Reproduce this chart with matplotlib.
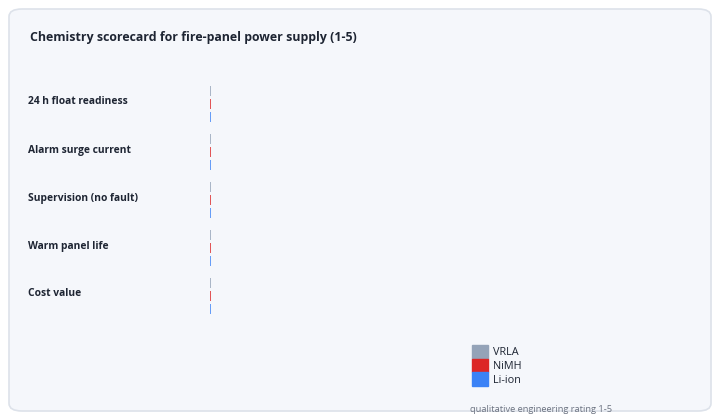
import numpy as np
import matplotlib
matplotlib.use("Agg")
import matplotlib.pyplot as plt
from matplotlib.patches import FancyBboxPatch, Rectangle
from matplotlib.transforms import blended_transform_factory, ScaledTranslation

plt.rcParams['font.family'] = ['Open Sans', 'DejaVu Sans']

criteria = ['24 h float readiness', 'Alarm surge current', 'Supervision (no fault)',
            'Warm panel life', 'Cost value']
series = ['VRLA', 'NiMH', 'Li-ion']
vrla = [5, 3, 4, 3, 5]
nimh = [3, 4, 3, 2, 3]
li_ion = [2, 5, 2, 5, 2]
colors = ['#94a3b8', '#dc2626', '#3b82f6']
note = 'qualitative engineering rating 1-5'

W, H = 720, 420
fig = plt.figure(figsize=(W / 100, H / 100), dpi=100)
fig.patch.set_facecolor('white')

# card background
card = FancyBboxPatch((9 / W, 9 / H), 702 / W, 402 / H,
                      boxstyle='round,pad=0,rounding_size=0.018',
                      transform=fig.transFigure, facecolor='#f5f7fb',
                      edgecolor='#dde2ea', linewidth=1.2, zorder=-5)
fig.patches.append(card)

fig.text(30 / W, 1 - 37 / H, 'Chemistry scorecard for fire-panel power supply (1-5)',
         fontsize=8.9, fontweight='bold', color='#1e2533', va='center', ha='left')

# axes region: rows of 48 px starting at y=80
top, bottom = 80, 320
ax = fig.add_axes([210 / W, 1 - bottom / H, 480 / W, (bottom - top) / H])
ax.set_facecolor('none')
ax.set_zorder(2)
for s in ax.spines.values():
    s.set_visible(False)

n = len(criteria)
y = np.arange(n)
bar_h = 0.22
offs = [-0.27, 0, 0.27]
for vals, off, c, name in zip([vrla, nimh, li_ion], offs, colors, series):
    ax.barh(y + off, vals, height=bar_h, color=c, edgecolor=c, linewidth=1.1, label=name)

# the scale runs far past the rating range, so every bar shows as a hairline
ax.set_xlim(0, 50000)
ax.set_ylim(n - 0.5, -0.5)
ax.set_xticks([])
ax.set_yticks([])

# row labels, left-aligned at the card's inner margin
trans = blended_transform_factory(fig.transFigure, ax.transData)
shift = ScaledTranslation(0, 2 / 100, fig.dpi_scale_trans)
for yi, lab in zip(y, criteria):
    ax.text(28 / W, yi, lab, transform=trans + shift, fontsize=7.4, fontweight='bold',
            color='#1e2533', ha='left', va='center', clip_on=False)

handles = [Rectangle((0, 0), 1, 1, color=c) for c in colors]
fig.legend(handles, series, loc='upper left', bbox_to_anchor=(464 / W, 1 - 337 / H),
           frameon=False, fontsize=7.8, handlelength=1.5, handleheight=1.6,
           handletextpad=0.45, labelspacing=0.0, borderpad=0.2,
           labelcolor='#1e2533')

fig.text(470 / W, 1 - 410 / H, note, fontsize=6.7, color='#6b7280', ha='left', va='center')

fig.savefig('out.png', dpi=100, facecolor='white')
